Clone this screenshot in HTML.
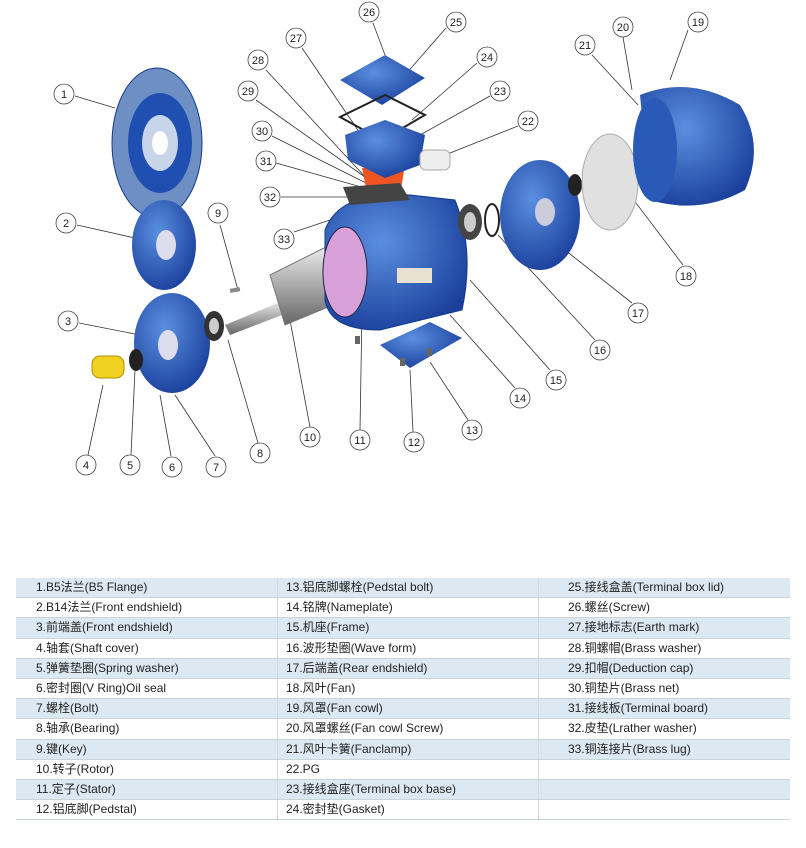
<!DOCTYPE html>
<html><head><meta charset="utf-8"><style>
body{margin:0;width:806px;height:848px;background:#fff;overflow:hidden;font-family:"Liberation Sans","Noto Sans CJK SC",sans-serif;}
svg{position:absolute;left:0;top:0}
table{position:absolute;left:16px;top:578px;width:774px;border-collapse:collapse;table-layout:fixed;font-size:12px;color:#222}
td{height:19.2px;line-height:19px;padding:0 0 0 20px;border-bottom:1px solid #c9d3da;border-right:1px solid #d3d9de;white-space:nowrap;overflow:hidden}
tr:nth-child(odd) td{background:#dde9f2}
td:nth-child(1){width:241px}td:nth-child(2){width:252px;padding-left:8px}td:nth-child(3){padding-left:29px;border-right:none}
</style></head><body>
<svg width="806" height="570" viewBox="0 0 806 570">
<defs>
<radialGradient id="b" cx="40%" cy="35%" r="70%"><stop offset="0" stop-color="#5a8fe0"/><stop offset="1" stop-color="#1a3f9c"/></radialGradient>
<linearGradient id="s" x1="0" y1="0" x2="0" y2="1"><stop offset="0" stop-color="#eee"/><stop offset=".5" stop-color="#aaa"/><stop offset="1" stop-color="#666"/></linearGradient>
</defs>
<g stroke="#333" stroke-width="0.8" fill="none">
<line x1="75" y1="96" x2="115" y2="108"/><line x1="77" y1="225" x2="135" y2="238"/><line x1="79" y1="323" x2="140" y2="335"/>
<line x1="88" y1="455" x2="103" y2="385"/><line x1="131" y1="455" x2="135" y2="370"/><line x1="171" y1="456" x2="160" y2="395"/>
<line x1="215" y1="456" x2="175" y2="395"/><line x1="258" y1="443" x2="228" y2="340"/><line x1="220" y1="225" x2="238" y2="290"/>
<line x1="310" y1="427" x2="290" y2="320"/><line x1="360" y1="430" x2="362" y2="310"/><line x1="413" y1="432" x2="410" y2="370"/>
<line x1="468" y1="420" x2="430" y2="362"/><line x1="515" y1="388" x2="450" y2="315"/><line x1="550" y1="370" x2="470" y2="280"/>
<line x1="595" y1="340" x2="498" y2="235"/><line x1="632" y1="303" x2="565" y2="250"/><line x1="683" y1="265" x2="630" y2="195"/>
<line x1="688" y1="30" x2="670" y2="80"/><line x1="623" y1="37" x2="632" y2="90"/><line x1="592" y1="55" x2="638" y2="105"/>
<line x1="518" y1="126" x2="445" y2="155"/><line x1="490" y1="96" x2="420" y2="135"/><line x1="477" y1="63" x2="412" y2="120"/>
<line x1="446" y1="28" x2="405" y2="75"/><line x1="373" y1="23" x2="385" y2="55"/><line x1="302" y1="48" x2="368" y2="145"/>
<line x1="266" y1="70" x2="368" y2="180"/><line x1="256" y1="100" x2="372" y2="182"/><line x1="272" y1="136" x2="372" y2="186"/>
<line x1="276" y1="163" x2="372" y2="190"/><line x1="281" y1="197" x2="372" y2="197"/><line x1="294" y1="232" x2="375" y2="205"/>
</g>
<ellipse cx="157" cy="143" rx="45" ry="75" fill="#6d8fc4" stroke="#123a8a"/>
<ellipse cx="160" cy="143" rx="32" ry="50" fill="#1f4fb0"/>
<ellipse cx="160" cy="143" rx="18" ry="28" fill="#c8d4ea"/><ellipse cx="160" cy="143" rx="8" ry="12" fill="#fff"/>
<ellipse cx="164" cy="245" rx="32" ry="45" fill="url(#b)"/><ellipse cx="166" cy="245" rx="10" ry="15" fill="#dde"/>
<ellipse cx="172" cy="343" rx="38" ry="50" fill="url(#b)"/><ellipse cx="168" cy="345" rx="10" ry="15" fill="#dde"/>
<rect x="92" y="356" width="32" height="22" rx="8" fill="#f0d020" stroke="#b09000"/>
<ellipse cx="136" cy="360" rx="7" ry="11" fill="#222"/>
<ellipse cx="214" cy="326" rx="10" ry="15" fill="#333"/><ellipse cx="214" cy="326" rx="5" ry="8" fill="#ccc"/>
<rect x="230" y="288" width="10" height="4" fill="#888" transform="rotate(-10 235 290)"/>
<polygon points="225,325 285,300 290,312 230,335" fill="url(#s)"/>
<polygon points="270,275 330,245 345,300 285,325" fill="url(#s)" stroke="#777"/>
<path d="M325,230 Q340,190 410,195 L455,200 Q475,250 462,310 L380,330 Q330,330 325,300 Z" fill="url(#b)" stroke="#123a8a"/>
<ellipse cx="345" cy="272" rx="22" ry="45" fill="#d8a0d8" stroke="#224"/>
<rect x="397" y="268" width="35" height="15" fill="#e8e0d0"/>
<polygon points="362,168 405,165 400,195 368,198" fill="#ee5522"/>
<polygon points="343,187 400,183 410,200 350,205" fill="#444"/>
<ellipse cx="470" cy="222" rx="12" ry="18" fill="#444"/><ellipse cx="470" cy="222" rx="6" ry="10" fill="#ccc"/>
<ellipse cx="492" cy="220" rx="7" ry="16" fill="none" stroke="#222" stroke-width="2"/>
<polygon points="340,80 385,55 425,78 382,105" fill="url(#b)"/>
<polygon points="340,117 385,95 425,115 382,140" fill="none" stroke="#222" stroke-width="2"/>
<polygon points="345,135 385,120 425,135 420,165 385,178 348,160" fill="url(#b)"/>
<rect x="420" y="150" width="30" height="20" rx="6" fill="#eee" stroke="#aaa"/>
<polygon points="380,345 430,322 462,338 410,368" fill="url(#b)"/>
<rect x="355" y="336" width="5" height="8" fill="#666"/><rect x="400" y="358" width="5" height="8" fill="#666"/><rect x="427" y="348" width="5" height="8" fill="#666"/>
<ellipse cx="540" cy="215" rx="40" ry="55" fill="url(#b)"/><ellipse cx="545" cy="212" rx="10" ry="14" fill="#ccd"/>
<ellipse cx="575" cy="185" rx="7" ry="11" fill="#222"/>
<ellipse cx="610" cy="182" rx="28" ry="48" fill="#e0e0e0" stroke="#aaa"/>
<path d="M640,95 Q690,75 740,105 Q765,145 745,190 Q700,215 650,200 Z" fill="url(#b)"/>
<ellipse cx="655" cy="150" rx="22" ry="52" fill="#2a5ab8"/>
<g font-size="11" font-family="Liberation Sans" text-anchor="middle" fill="#222">
<g fill="#fff" stroke="#444" stroke-width="0.8">
<circle cx="64" cy="94" r="10"/><circle cx="66" cy="223" r="10"/><circle cx="68" cy="321" r="10"/><circle cx="86" cy="465" r="10"/><circle cx="130" cy="465" r="10"/><circle cx="172" cy="467" r="10"/><circle cx="216" cy="467" r="10"/><circle cx="260" cy="453" r="10"/><circle cx="218" cy="213" r="10"/><circle cx="310" cy="437" r="10"/><circle cx="360" cy="440" r="10"/><circle cx="414" cy="442" r="10"/><circle cx="472" cy="430" r="10"/><circle cx="520" cy="398" r="10"/><circle cx="556" cy="380" r="10"/><circle cx="600" cy="350" r="10"/><circle cx="638" cy="313" r="10"/><circle cx="686" cy="276" r="10"/><circle cx="698" cy="22" r="10"/><circle cx="623" cy="27" r="10"/><circle cx="585" cy="45" r="10"/><circle cx="528" cy="121" r="10"/><circle cx="500" cy="91" r="10"/><circle cx="487" cy="57" r="10"/><circle cx="456" cy="22" r="10"/><circle cx="369" cy="12" r="10"/><circle cx="296" cy="38" r="10"/><circle cx="258" cy="60" r="10"/><circle cx="248" cy="91" r="10"/><circle cx="262" cy="131" r="10"/><circle cx="266" cy="161" r="10"/><circle cx="270" cy="197" r="10"/><circle cx="284" cy="239" r="10"/>
</g>
<text x="64" y="98">1</text><text x="66" y="227">2</text><text x="68" y="325">3</text><text x="86" y="469">4</text><text x="130" y="469">5</text><text x="172" y="471">6</text><text x="216" y="471">7</text><text x="260" y="457">8</text><text x="218" y="217">9</text><text x="310" y="441">10</text><text x="360" y="444">11</text><text x="414" y="446">12</text><text x="472" y="434">13</text><text x="520" y="402">14</text><text x="556" y="384">15</text><text x="600" y="354">16</text><text x="638" y="317">17</text><text x="686" y="280">18</text><text x="698" y="26">19</text><text x="623" y="31">20</text><text x="585" y="49">21</text><text x="528" y="125">22</text><text x="500" y="95">23</text><text x="487" y="61">24</text><text x="456" y="26">25</text><text x="369" y="16">26</text><text x="296" y="42">27</text><text x="258" y="64">28</text><text x="248" y="95">29</text><text x="262" y="135">30</text><text x="266" y="165">31</text><text x="270" y="201">32</text><text x="284" y="243">33</text>
</g>
</svg>
<table>
<tr><td>1.B5法兰(B5 Flange)</td><td>13.铝底脚螺栓(Pedstal bolt)</td><td>25.接线盒盖(Terminal box lid)</td></tr>
<tr><td>2.B14法兰(Front endshield)</td><td>14.铭牌(Nameplate)</td><td>26.螺丝(Screw)</td></tr>
<tr><td>3.前端盖(Front endshield)</td><td>15.机座(Frame)</td><td>27.接地标志(Earth mark)</td></tr>
<tr><td>4.轴套(Shaft cover)</td><td>16.波形垫圈(Wave form)</td><td>28.铜螺帽(Brass washer)</td></tr>
<tr><td>5.弹簧垫圈(Spring washer)</td><td>17.后端盖(Rear endshield)</td><td>29.扣帽(Deduction cap)</td></tr>
<tr><td>6.密封圈(V Ring)Oil seal</td><td>18.风叶(Fan)</td><td>30.铜垫片(Brass net)</td></tr>
<tr><td>7.螺栓(Bolt)</td><td>19.风罩(Fan cowl)</td><td>31.接线板(Terminal board)</td></tr>
<tr><td>8.轴承(Bearing)</td><td>20.风罩螺丝(Fan cowl Screw)</td><td>32.皮垫(Lrather washer)</td></tr>
<tr><td>9.键(Key)</td><td>21.风叶卡簧(Fanclamp)</td><td>33.铜连接片(Brass lug)</td></tr>
<tr><td>10.转子(Rotor)</td><td>22.PG</td><td>&nbsp;</td></tr>
<tr><td>11.定子(Stator)</td><td>23.接线盒座(Terminal box base)</td><td>&nbsp;</td></tr>
<tr><td>12.铝底脚(Pedstal)</td><td>24.密封垫(Gasket)</td><td>&nbsp;</td></tr>
</table>
</body></html>
